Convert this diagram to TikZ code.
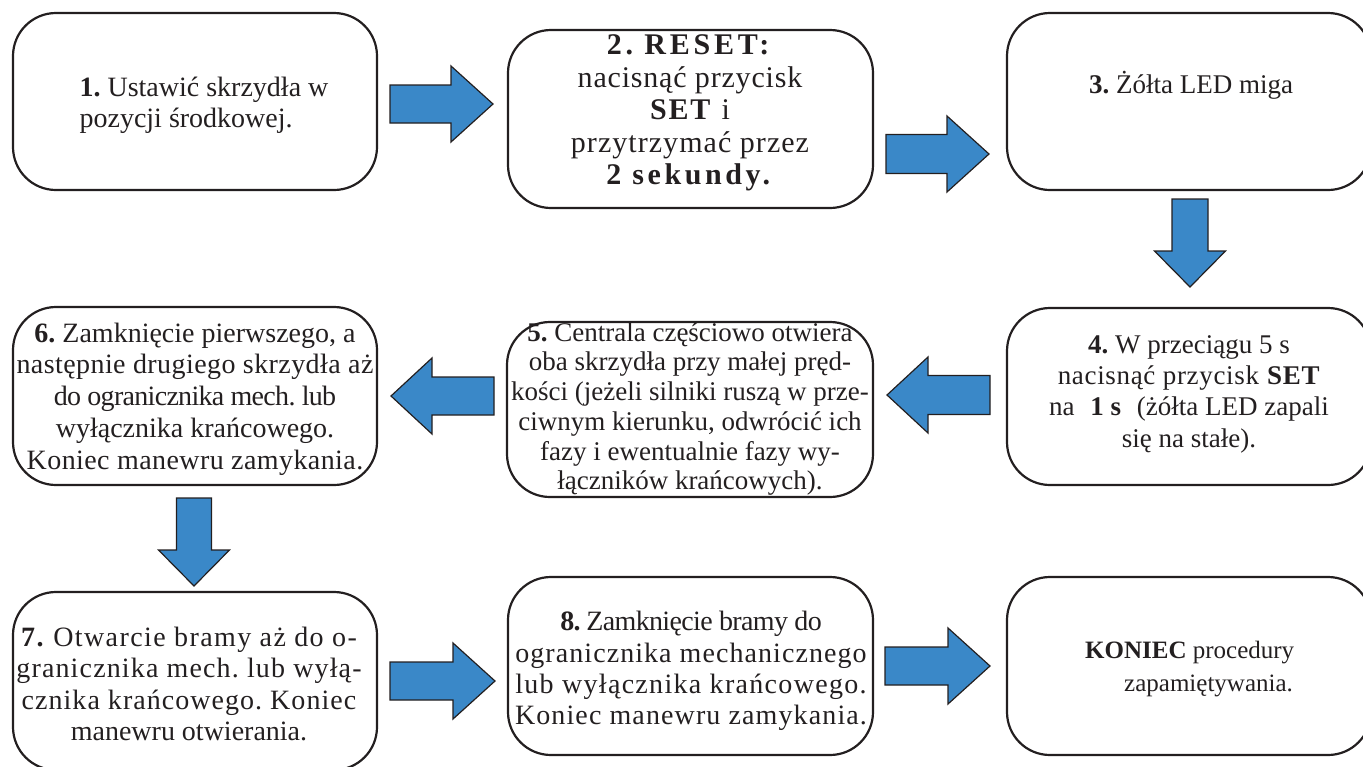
\documentclass[tikz,border=0pt]{standalone}
\usepackage{fontspec}
\setmainfont{Liberation Serif}
\definecolor{arrowblue}{RGB}{58,136,200}
\definecolor{edgecol}{RGB}{35,31,32}
\newcommand\ls[2]{{\addfontfeature{LetterSpace=#1}#2}}
\frenchspacing
\tikzset{
  arrowshape/.style={draw=edgecol, fill=arrowblue, line width=1.2pt, line join=miter},
  pics/blockarrow/.style n args={4}{code={
    \draw[arrowshape] ({-(#1)/2},{-(#2)}) -- ({(#1)/2-(#4)},{-(#2)})
      -- ({(#1)/2-(#4)},{-(#3)}) -- ({(#1)/2},0) -- ({(#1)/2-(#4)},{#3})
      -- ({(#1)/2-(#4)},{#2}) -- ({-(#1)/2},{#2}) -- cycle;
  }}
}
\begin{document}
\begin{tikzpicture}[x=1pt,y=-1pt,
  stepbox/.style={draw=edgecol, line width=2.2pt, rounded corners=43pt,
    minimum width=364pt, minimum height=177pt, inner sep=0pt},
  steptext/.style={font=\fontsize{27}{31.3}\selectfont, align=center,
    inner sep=0pt, text=edgecol}
]
\useasboundingbox (0,0) rectangle (1363,766);
\clip (0,0) rectangle (1363,766);

% boxes
\node[stepbox] (b1) at (195,101.5) {};
\node[stepbox, minimum height=178pt, minimum width=365pt] (b2) at (690.5,119) {};
\node[stepbox] (b3) at (1189,101.5) {};
\node[stepbox] (b4) at (1189,396.5) {};
\node[stepbox, minimum height=175pt, minimum width=366pt] (b5) at (690,409.5) {};
\node[stepbox, minimum height=178pt] (b6) at (195,396) {};
\node[stepbox, minimum height=178pt] (b7) at (195,681) {};
\node[stepbox, minimum height=178pt, minimum width=365pt] (b8) at (690.5,666) {};
\node[stepbox, minimum height=178pt] (b9) at (1189,666) {};

% texts
\node[steptext, align=left, font=\fontsize{28}{31.3}\selectfont] (t1) at (204,105)
  {\textbf{1.} Ustawić skrzydła w\\pozycji środkowej.};
\node[steptext, font=\fontsize{30}{32.5}\selectfont] (t2) at (690,113)
  {\textbf{\ls{12.6}{2. RESET:}}\\\ls{2.7}{nacisnąć przycisk}\\\ls{6}{\textbf{SET} i}\\\ls{3.5}{przytrzymać przez}\\\textbf{\ls{12}{2 sekundy.}}};
\node[steptext] (t3) at (1191,85) {\textbf{3.} Żółta LED miga};
\node[steptext] (t4) at (1189,394)
  {\textbf{4.} W przeciągu 5 s\\\ls{2.5}{nacisnąć przycisk \textbf{SET}}\\na\hspace{9pt} \textbf{1 s}\hspace{9pt} (żółta LED zapali\\się na stałe).};
\node[steptext, font=\fontsize{27}{29.7}\selectfont] (t5) at (690,409)
  {\textbf{5.} Centrala częściowo otwiera\\oba skrzydła przy małej pręd-\\kości (jeżeli silniki ruszą w prze-\\ciwnym kierunku, odwrócić ich\\fazy i ewentualnie fazy wy-\\łączników krańcowych).};
\node[steptext, font=\fontsize{28}{31.7}\selectfont] (t6) at (195,399)
  {\textbf{6.} Zamknięcie pierwszego, a\\\ls{1.5}{następnie drugiego skrzydła aż}\\\ls{-2.5}{do ogranicznika mech. lub}\\wyłącznika krańcowego.\\\ls{1.5}{Koniec manewru zamykania.}};
\node[steptext, font=\fontsize{28}{31.3}\selectfont] (t7) at (189,684)
  {\ls{5}{\textbf{7.} Otwarcie bramy aż do o-}\\\ls{4.1}{granicznika mech. lub wyłą-}\\\ls{3.7}{cznika krańcowego. Koniec}\\manewru otwierania.};
\node[steptext, font=\fontsize{28}{31.3}\selectfont] (t8) at (691,671)
  {\ls{-2.3}{\textbf{8.} Zamknięcie bramy do}\\\ls{3.8}{ogranicznika mechanicznego}\\\ls{4.7}{lub wyłącznika krańcowego.}\\\ls{4}{Koniec manewru zamykania.}};
\node[steptext, align=left, anchor=west, font=\fontsize{25}{33}\selectfont] (t9) at (1085,669)
  {\textbf{KONIEC} procedury\\\hspace*{39pt}zapamiętywania.};

% block arrows
\pic (a12) at (441.5,104) {blockarrow={103}{19}{38}{42}};
\pic (a23) at (937.5,154) {blockarrow={103}{19.5}{38}{42}};
\pic[rotate=-90] (a34) at (1190,243) {blockarrow={88}{18}{35.5}{36}};
\pic[rotate=180] (a45) at (938.5,395) {blockarrow={103}{19.5}{38}{41}};
\pic[rotate=180] (a56) at (442.5,396) {blockarrow={103}{19}{38}{41}};
\pic[rotate=-90] (a67) at (194,542) {blockarrow={88}{17.5}{35.5}{36}};
\pic (a78) at (442.5,681) {blockarrow={105}{19}{38}{42}};
\pic (a89) at (937.5,666) {blockarrow={105}{19}{38}{42}};
\end{tikzpicture}
\end{document}
